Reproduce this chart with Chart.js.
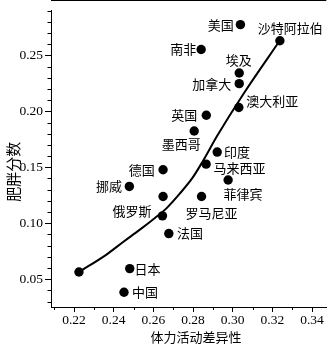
<!DOCTYPE html>
<html><head><meta charset="utf-8">
<script src="https://cdn.jsdelivr.net/npm/chart.js@4"></script>
<style>html,body{margin:0;padding:0;background:#fff;overflow:hidden}canvas{display:block}</style>
</head><body>
<canvas id="c" width="331" height="345"></canvas>
<script>
// ---- data ----
const countries = ['美国','沙特阿拉伯','南非','埃及','加拿大','澳大利亚','英国','墨西哥','印度','马来西亚','德国','菲律宾','挪威','','罗马尼亚','俄罗斯','法国','日本','中国',''];
const activityVariance = [0.3039,0.3238,0.2841,0.3033,0.3033,0.3031,0.2867,0.2806,0.2922,0.2866,0.2649,0.2977,0.2479,0.2649,0.2843,0.2646,0.2678,0.2481,0.2452,0.2225];
const obesityScore = [0.2774,0.2630,0.2552,0.2342,0.2247,0.2034,0.1965,0.1824,0.1636,0.1528,0.1478,0.1386,0.1329,0.1239,0.1239,0.1066,0.0908,0.0595,0.0384,0.0565];
const fitX = [0.2225,0.2360,0.2451,0.2534,0.2608,0.2666,0.2732,0.2798,0.2848,0.2922,0.3054,0.3237];
const fitY = [0.0565,0.0716,0.0837,0.0945,0.1047,0.1133,0.1262,0.1407,0.1550,0.1781,0.2155,0.2630];
const xTickValues = [0.22,0.24,0.26,0.28,0.30,0.32,0.34];
const xTickLabels = ['0.22','0.24','0.26','0.28','0.30','0.32','0.34'];
const yTickValues = [0.05,0.10,0.15,0.20,0.25];
const yTickLabels = ['0.05','0.10','0.15','0.20','0.25'];
const xTitle = '体力活动差异性';
const yTitle = '肥胖分数';

// ---- label placement (layout only): [align, dx, dy] ----
const labelPos = [
  ['right',-6.7,0],['center',10.3,-12.7],['right',-5,0],['center',-0.6,-13.3],['right',-8,0],
  ['left',7.3,-6.4],['right',-9,0],['center',-13,12.7],['left',6.7,0],['left',7.3,4],
  ['right',-8.3,0],['center',14.8,14.3],['right',-7.4,0],['left',0,0],['center',10,16.6],
  ['right',-11,-4.4],['left',8.3,0],['left',4.7,0],['left',8,0],['left',0,0]
];

const CJK = '"Noto Sans CJK SC", "Noto Sans", sans-serif';
const SERIF = '"Liberation Serif", "DejaVu Serif", serif';

const decor = {
  id: 'decor',
  afterDraw(chart) {
    const ctx = chart.ctx, xs = chart.scales.x, ys = chart.scales.y, a = chart.chartArea;
    ctx.save();
    ctx.strokeStyle = '#000'; ctx.lineWidth = 1;
    ctx.beginPath(); ctx.moveTo(a.left, 0.5); ctx.lineTo(a.right, 0.5); ctx.stroke();
    // minor ticks
    ctx.beginPath();
    for (let k = 21; k <= 34; k++) {
      if (k % 2 === 0) continue;
      const px = Math.round(xs.getPixelForValue(k / 100)) + 0.5;
      ctx.moveTo(px, a.bottom); ctx.lineTo(px, a.bottom + 3);
    }
    for (let k = 3; k <= 29; k++) {
      if (k % 5 === 0) continue;
      const py = Math.round(ys.getPixelForValue(k / 100)) + 0.5;
      ctx.moveTo(a.left - 3.5, py); ctx.lineTo(a.left, py);
    }
    ctx.stroke();
    // point labels
    const meta = chart.getDatasetMeta(0);
    ctx.fillStyle = '#000';
    ctx.font = '13px ' + CJK;
    ctx.textBaseline = 'middle';
    meta.data.forEach((pt, i) => {
      if (!countries[i]) return;
      const lp = labelPos[i];
      ctx.textAlign = lp[0];
      ctx.fillText(countries[i], pt.x + lp[1], pt.y + lp[2]);
    });
    // axis titles
    ctx.textAlign = 'center';
    ctx.font = '13px ' + CJK;
    ctx.fillText(xTitle, 196, 336.7);
    ctx.translate(13.3, 171.7);
    ctx.rotate(-Math.PI / 2);
    ctx.font = '15px ' + CJK;
    ctx.fillText(yTitle, 0, 0);
    ctx.restore();
  }
};

new Chart(document.getElementById('c'), {
  type: 'scatter',
  data: {
    datasets: [
      {
        label: 'countries',
        data: activityVariance.map((v, i) => ({x: v, y: obesityScore[i]})),
        backgroundColor: '#000', borderWidth: 0, pointRadius: 4.7, pointHoverRadius: 4.7, order: 1
      },
      {
        type: 'line', label: 'fit',
        data: fitX.map((v, i) => ({x: v, y: fitY[i]})),
        borderColor: '#000', borderWidth: 2, pointRadius: 0, fill: false, tension: 0.3,
        cubicInterpolationMode: 'monotone', order: 2
      }
    ]
  },
  options: {
    responsive: false, animation: false, devicePixelRatio: 1,
    layout: {padding: 0},
    plugins: {legend: {display: false}, tooltip: {enabled: false}},
    scales: {
      x: {
        type: 'linear', min: 0.2084, max: 0.3472,
        afterFit: s => { s.height = 38; },
        afterBuildTicks: s => { s.ticks = xTickValues.map(v => ({value: v})); },
        grid: {display: true, drawOnChartArea: false, drawTicks: true, tickLength: 5, color: '#000'},
        border: {display: true, color: '#000', width: 1},
        ticks: {autoSkip: false, maxRotation: 0, padding: 0, color: '#000',
          font: {family: SERIF, size: 13.5},
          callback: (v, i) => xTickLabels[i]}
      },
      y: {
        type: 'linear', min: 0.0252, max: 0.2904,
        afterFit: s => { s.width = 51; },
        afterBuildTicks: s => { s.ticks = yTickValues.map(v => ({value: v})); },
        grid: {display: true, drawOnChartArea: false, drawTicks: true, tickLength: 6, color: '#000'},
        border: {display: true, color: '#000', width: 1},
        ticks: {autoSkip: false, padding: 2, color: '#000',
          font: {family: SERIF, size: 13.5},
          callback: (v, i) => yTickLabels[i]}
      }
    }
  },
  plugins: [decor]
});
</script>
</body></html>
